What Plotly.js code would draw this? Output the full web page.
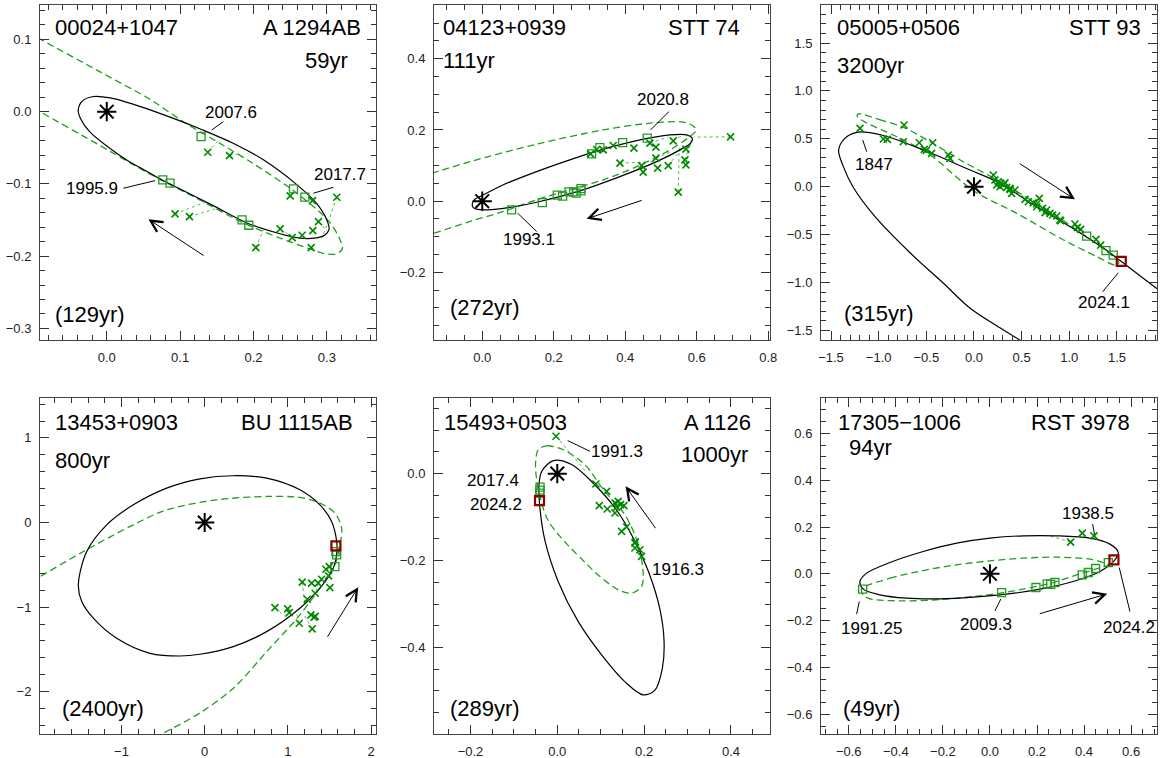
<!DOCTYPE html>
<html><head><meta charset="utf-8">
<script src="https://cdn.plot.ly/plotly-3.0.1.min.js"></script>
<style>html,body{margin:0;padding:0;background:#fff}#chart{width:1161px;height:758px}</style>
</head><body><div id="chart"></div>
<script>
// ---------------- DATA ----------------
// Panel 1: 00024+1047 A 1294AB
const p1Orbit = [[-0.039,0.002],[-0.033,0.015],[-0.018,0.021],[0.005,0.019],[0.046,0.007],[0.09,-0.009],[0.13,-0.025],[0.175,-0.045],[0.214,-0.067],[0.259,-0.101],[0.286,-0.127],[0.300,-0.150],[0.303,-0.163],[0.297,-0.171],[0.283,-0.175],[0.263,-0.175],[0.236,-0.169],[0.191,-0.154],[0.145,-0.130],[0.100,-0.107],[0.076,-0.095],[0.050,-0.080],[0.032,-0.070],[0.014,-0.058],[-0.023,-0.028],[-0.036,-0.009],[-0.039,0.002]];
const p1Old = [[-0.12,0.117],[-0.091,0.1005],[-0.009,0.055],[0.059,0.017],[0.1045,-0.014],[0.1545,-0.044],[0.2,-0.072],[0.25,-0.106],[0.286,-0.135],[0.3045,-0.154],[0.317,-0.175],[0.321,-0.19],[0.312,-0.197],[0.295,-0.196],[0.277,-0.19],[0.236,-0.175],[0.182,-0.152],[0.123,-0.12],[0.073,-0.094],[0.032,-0.071],[-0.009,-0.047],[-0.091,0.0],[-0.12,0.017]];
const p1Cross = [[0.1377,-0.0562],[0.1673,-0.0608],[0.0931,-0.1415],[0.1127,-0.1452],[0.25,-0.1166],[0.2804,-0.1231],[0.3136,-0.1184],[0.2886,-0.1521],[0.2809,-0.1646],[0.2363,-0.1622],[0.2527,-0.1743],[0.2663,-0.171],[0.2786,-0.1881],[0.2032,-0.1881]];
const p1Sq = [[0.1286,-0.0346],[0.0764,-0.0945],[0.0863,-0.099],[0.1845,-0.1498],[0.1936,-0.1572],[0.2545,-0.1069],[0.27,-0.1184]];
const p1Red = [];
const p1Resid = [[[0.1377,-0.0562],[0.152,-0.040]],[[0.1673,-0.0608],[0.182,-0.058]],[[0.0931,-0.1415],[0.136,-0.1245]],[[0.1127,-0.1452],[0.15,-0.134]],[[0.3136,-0.1184],[0.30,-0.158],[0.293,-0.175]],[[0.2032,-0.1881],[0.2136,-0.1636]],[[0.2886,-0.1521],[0.30,-0.165]],[[0.2363,-0.1622],[0.258,-0.176]]];
const p1Labels = [['2007.6',0.1695,-0.0014],['2017.7',0.318,-0.0876],['1995.9',-0.0205,-0.106]];
const p1Pointers = [[[0.1432,-0.0253],[0.159,-0.0138]],[[0.2817,-0.1129],[0.309,-0.1046]],[[0.0226,-0.106],[0.0659,-0.0954]]];
const p1Arrow = [[0.1341,-0.2005],[0.0568,-0.1489]];

// Panel 2: 04123+0939 STT 74
const p2Orbit = [[-0.028,-0.008],[-0.02,0.006],[-0.006,0.013],[0.059,0.046],[0.152,0.083],[0.245,0.116],[0.3385,0.146],[0.432,0.17],[0.525,0.186],[0.572,0.186],[0.588,0.175],[0.582,0.162],[0.562,0.149],[0.488,0.111],[0.385,0.069],[0.273,0.029],[0.152,-0.003],[0.059,-0.02],[-0.006,-0.024],[-0.025,-0.018],[-0.028,-0.008]];
const p2Old = [[-0.2,0.061],[-0.135,0.0803],[-0.034,0.111],[0.152,0.16],[0.3385,0.2003],[0.469,0.219],[0.562,0.222],[0.592,0.21],[0.598,0.198],[0.581,0.1815],[0.525,0.144],[0.432,0.097],[0.3385,0.06],[0.245,0.032],[0.152,0.004],[0.059,-0.029],[-0.034,-0.057],[-0.135,-0.09],[-0.2,-0.111]];
const p2Cross = [[0.3032,0.1329],[0.32,0.145],[0.3385,0.1441],[0.3664,0.1562],[0.4243,0.1489],[0.3852,0.1067],[0.4691,0.1629],[0.4858,0.1517],[0.5343,0.1694],[0.5698,0.1461],[0.4858,0.1208],[0.4459,0.1],[0.4503,0.0815],[0.4906,0.0927],[0.5203,0.1],[0.567,0.116],[0.5698,0.102],[0.5483,0.0253],[0.6948,0.1806]];
const p2Sq = [[0.0822,-0.0244],[0.168,-0.004],[0.2098,0.0169],[0.2249,0.014],[0.2425,0.0261],[0.2556,0.0261],[0.263,0.0225],[0.2761,0.0354],[0.2761,0.029],[0.306,0.133],[0.329,0.1506],[0.3927,0.1646],[0.4615,0.177]];
const p2Red = [];
const p2Resid = [[[0.6948,0.1806],[0.592,0.18]],[[0.5483,0.0253],[0.551,0.15]],[[0.3852,0.1067],[0.488,0.111]],[[0.567,0.116],[0.585,0.172]],[[0.5698,0.102],[0.585,0.172]],[[0.4858,0.1208],[0.53,0.14]],[[0.5203,0.1],[0.56,0.15]],[[0.4691,0.1629],[0.52,0.18]],[[0.5343,0.1694],[0.56,0.185]]];
const p2Labels = [['2020.8',0.5063,0.2865],['1993.1',0.1306,-0.1067]];
const p2Pointers = [[[0.5222,0.2517],[0.471,0.2003]],[[0.099,-0.0337],[0.1522,-0.0854]]];
const p2Arrow = [[0.4503,0.0037],[0.292,-0.0497]];

// Panel 3: 05005+0506 STT 93
const p3Orbit = [[0.62,-1.7],[0.48,-1.6],[0.31,-1.496],[-0.04,-1.269],[-0.32,-1.008],[-0.66,-0.70],[-1.04,-0.31],[-1.27,0.0],[-1.37,0.21],[-1.42,0.38],[-1.36,0.5],[-1.23,0.568],[-0.97,0.54],[-0.53,0.383],[-0.04,0.174],[0.24,0.052],[0.66,-0.209],[1.01,-0.418],[1.36,-0.643],[1.54,-0.776],[1.9,-1.05],[2.05,-1.16]];
const p3Old = [[-1.214,0.76],[-0.99,0.70],[-0.74,0.62],[-0.46,0.47],[-0.11,0.26],[0.17,0.11],[0.5,-0.08],[0.9,-0.33],[1.25,-0.57],[1.45,-0.72],[1.52,-0.79],[1.49,-0.82],[1.29,-0.73],[0.94,-0.556],[0.45,-0.278],[0.0,-0.045],[-0.46,0.331],[-0.81,0.522],[-1.13,0.668],[-1.225,0.735],[-1.214,0.76]];
const p3Cross = [[-1.196,0.609],[-0.951,0.498],[-0.909,0.495],[-0.734,0.644],[-0.742,0.47],[-0.574,0.459],[-0.521,0.39],[-0.5,0.38],[-0.433,0.459],[-0.444,0.348],[-0.269,0.331],[-0.252,0.296],[0.203,0.122],[0.22,0.07],[0.255,0.052],[0.28,0.035],[0.308,0.018],[0.343,-0.007],[0.378,-0.027],[0.395,-0.069],[0.273,0.0],[0.325,0.04],[0.238,0.018],[0.43,-0.034],[0.378,-0.017],[0.535,-0.132],[0.57,-0.157],[0.622,-0.167],[0.685,-0.121],[0.658,-0.209],[0.658,-0.18],[0.72,-0.225],[0.762,-0.243],[0.797,-0.278],[0.825,-0.295],[0.868,-0.306],[0.909,-0.355],[0.902,-0.348],[0.745,-0.271],[1.059,-0.389],[1.084,-0.424],[1.119,-0.445],[1.28,-0.549],[1.329,-0.609]];
const p3Sq = [[1.182,-0.515],[1.385,-0.666],[1.461,-0.715]];
const p3Red = [[1.545,-0.78]];
const p3Resid = [];
const p3Labels = [['1847',-1.046,0.234],['2024.1',1.367,-1.211]];
const p3Pointers = [[[-1.1675,0.4875],[-1.1255,0.3653]],[[1.514,-0.8977],[1.35,-1.096]]];
const p3Arrow = [[0.465,0.251],[1.059,-0.132]];

// Panel 4: 13453+0903 BU 1115AB
const p4Orbit = [[-1.519,-0.737],[-1.418,-0.343],[-1.178,-0.027],[-0.858,0.209],[-0.457,0.407],[-0.056,0.517],[0.344,0.553],[0.745,0.525],[1.145,0.387],[1.386,0.209],[1.526,0.012],[1.587,-0.225],[1.587,-0.38],[1.546,-0.54],[1.386,-0.776],[1.145,-1.013],[0.745,-1.29],[0.344,-1.467],[-0.056,-1.557],[-0.297,-1.578],[-0.657,-1.546],[-1.058,-1.368],[-1.339,-1.131],[-1.478,-0.935],[-1.519,-0.737]];
const p4Old = [[-2.2,-0.76],[-1.98,-0.639],[-1.459,-0.343],[-0.858,-0.027],[-0.457,0.15],[0.144,0.268],[0.745,0.308],[1.145,0.296],[1.386,0.23],[1.566,0.111],[1.647,-0.066],[1.626,-0.264],[1.566,-0.5],[1.466,-0.658],[1.145,-1.092],[0.745,-1.527],[0.344,-1.96],[-0.056,-2.25],[-0.517,-2.5],[-0.8,-2.64]];
const p4Cross = [[0.845,-1.006],[0.998,-1.021],[1.017,-1.065],[1.137,-1.191],[1.173,-0.705],[1.286,-0.717],[1.233,-0.907],[1.365,-0.717],[1.406,-0.67],[1.329,-0.836],[1.278,-1.092],[1.314,-1.12],[1.33,-1.11],[1.293,-1.258],[1.506,-0.769],[1.458,-0.552],[1.498,-0.521],[1.49,-0.63]];
const p4Sq = [[1.578,-0.343],[1.587,-0.382],[1.566,-0.521]];
const p4Red = [[1.578,-0.276]];
const p4Resid = [[[0.845,-1.006],[1.0,-1.14]],[[1.173,-0.705],[1.2,-0.93]],[[1.365,-0.717],[1.33,-0.86]],[[1.293,-1.258],[1.2,-1.1]],[[1.137,-1.191],[1.1,-1.06]]];
const p4Labels = [];
const p4Pointers = [];
const p4Arrow = [[1.466,-1.368],[1.846,-0.764]];

// Panel 5: 15493+0503 A 1126
const p5Orbit = [[-0.009,0.03],[-0.036,0.005],[-0.042,-0.025],[-0.04,-0.079],[-0.028,-0.156],[0.002,-0.248],[0.048,-0.34],[0.102,-0.417],[0.156,-0.479],[0.198,-0.509],[0.225,-0.498],[0.242,-0.448],[0.246,-0.386],[0.236,-0.31],[0.21,-0.225],[0.175,-0.148],[0.133,-0.079],[0.079,-0.018],[0.033,0.021],[-0.009,0.03]];
const p5Old = [[-0.044,0.055],[-0.024,0.064],[0.014,0.055],[0.064,0.02],[0.107,-0.038],[0.156,-0.095],[0.187,-0.164],[0.198,-0.233],[0.194,-0.26],[0.171,-0.275],[0.14,-0.267],[0.094,-0.233],[0.065,-0.205],[0.025,-0.165],[-0.02,-0.11],[-0.038,-0.06],[-0.048,-0.01],[-0.05,0.025],[-0.044,0.055]];
const p5Cross = [[-0.003,0.086],[0.089,-0.0238],[0.1137,-0.0407],[0.0967,-0.0737],[0.1151,-0.0814],[0.1328,-0.0676],[0.1404,-0.0637],[0.1459,-0.0714],[0.1535,-0.0737],[0.1367,-0.0768],[0.1328,-0.0906],[0.1597,-0.1229],[0.1482,-0.133],[0.1788,-0.1597],[0.18,-0.157],[0.1788,-0.1712],[0.1903,-0.175],[0.1942,-0.1905]];
const p5Sq = [[-0.0398,-0.031],[-0.0398,-0.038],[-0.0405,-0.045]];
const p5Red = [[-0.041,-0.062]];
const p5Resid = [[[-0.003,0.086],[0.068,0.002]]];
const p5Labels = [['1991.3',0.138,0.05],['2017.4',-0.1473,-0.0161],['2024.2',-0.1411,-0.0714],['1916.3',0.2785,-0.2212]];
const p5Pointers = [[[0.0239,0.076],[0.0753,0.0514]]];
const p5Arrow = [[0.2288,-0.129],[0.1574,-0.0293]];

// Panel 6: 17305-1006 RST 3978
const p6Orbit = [[-0.5525,-0.0329],[-0.524,0.003],[-0.425,0.0483],[-0.2835,0.0953],[-0.1417,0.131],[0,0.1526],[0.1417,0.1624],[0.2835,0.1624],[0.425,0.1526],[0.51,0.1269],[0.5454,0.0912],[0.5312,0.0598],[0.4675,0.01],[0.354,-0.0329],[0.2125,-0.0655],[0.071,-0.0869],[-0.071,-0.0997],[-0.2125,-0.1068],[-0.354,-0.104],[-0.4675,-0.0897],[-0.5384,-0.0655],[-0.5525,-0.0329]];
const p6Old = [[-0.5454,-0.0655],[-0.425,-0.0185],[-0.2835,0.0142],[-0.1417,0.0385],[0,0.0556],[0.1417,0.067],[0.2835,0.0712],[0.425,0.0627],[0.482,0.048],[0.505,0.04],[0.449,0.02],[0.3825,0.0],[0.269,-0.037],[0.071,-0.078],[-0.071,-0.097],[-0.2265,-0.111],[-0.3685,-0.1154],[-0.51,-0.1068],[-0.5384,-0.0897],[-0.5454,-0.0655]];
const p6Cross = [[0.343,0.1355],[0.3924,0.1739],[0.442,0.1624]];
const p6Sq = [[-0.541,-0.0655],[0.0497,-0.0798],[0.1955,-0.0584],[0.2437,-0.0427],[0.258,-0.045],[0.2762,-0.037],[0.3924,-0.0043],[0.4178,0.0057],[0.449,0.0228],[0.503,0.0483]];
const p6Red = [[0.527,0.0598]];
const p6Resid = [[[0.343,0.1355],[0.255,0.162]]];
const p6Labels = [['1938.5',0.4178,0.2594],['1991.25',-0.5028,-0.235],['2009.3',-0.017,-0.215],['2024.2',0.592,-0.2278]];
const p6Pointers = [[[0.4365,0.2124],[0.4462,0.1594]],[[-0.5555,-0.1184],[-0.5665,-0.1722]],[[0.0467,-0.1068],[0.0212,-0.1581]],[[0.5495,0.0269],[0.595,-0.1611]]];
const p6Arrow = [[0.2055,-0.1722],[0.4986,-0.0855]];

// Panel texts
const panelNames = ['00024+1047','04123+0939','05005+0506','13453+0903','15493+0503','17305\u22121006'];
const panelPairs = ['A 1294AB','STT 74','STT 93','BU 1115AB','A 1126','RST 3978'];
const panelPeriods = ['59yr','111yr','3200yr','800yr','1000yr','94yr'];
const panelOldPeriods = ['(129yr)','(272yr)','(315yr)','(2400yr)','(289yr)','(49yr)'];

// ---------------- LAYOUT / DRAWING ----------------
const W = 1161, H = 758;
const FONT = 'Liberation Sans, Arial, Helvetica, sans-serif';
const GREEN_LINE = '#1e9e1e', GREEN_X = '#008800', GREEN_SQ = '#249a24', DOT = '#4fbf4f', RED = '#8b0000';

const panels = [
  {orbit:p1Orbit, old:p1Old, cross:p1Cross, sq:p1Sq, red:p1Red, resid:p1Resid, labels:p1Labels, ptr:p1Pointers, arrow:p1Arrow},
  {orbit:p2Orbit, old:p2Old, cross:p2Cross, sq:p2Sq, red:p2Red, resid:p2Resid, labels:p2Labels, ptr:p2Pointers, arrow:p2Arrow},
  {orbit:p3Orbit, old:p3Old, cross:p3Cross, sq:p3Sq, red:p3Red, resid:p3Resid, labels:p3Labels, ptr:p3Pointers, arrow:p3Arrow},
  {orbit:p4Orbit, old:p4Old, cross:p4Cross, sq:p4Sq, red:p4Red, resid:p4Resid, labels:p4Labels, ptr:p4Pointers, arrow:p4Arrow},
  {orbit:p5Orbit, old:p5Old, cross:p5Cross, sq:p5Sq, red:p5Red, resid:p5Resid, labels:p5Labels, ptr:p5Pointers, arrow:p5Arrow},
  {orbit:p6Orbit, old:p6Old, cross:p6Cross, sq:p6Sq, red:p6Red, resid:p6Resid, labels:p6Labels, ptr:p6Pointers, arrow:p6Arrow}
];

// pixel boxes of the six frames and axis settings
const colPx = [[40,376],[434,770],[821,1157]];
const rowPx = [[5,340],[398,734]];
const axCfg = [
  {xr:[-0.091,0.367], yr:[-0.316,0.1476], xd:0.1, xm:0.02, yd:0.1, ym:0.02, xf:'.1f', yf:'.1f'},
  {xr:[-0.135,0.805], yr:[-0.39,0.551],   xd:0.2, xm:0.05, yd:0.2, ym:0.05, xf:'.1f', yf:'.1f'},
  {xr:[-1.605,1.92],  yr:[-1.6,1.897],    xd:0.5, xm:0.1,  yd:0.5, ym:0.1,  xf:'.1f', yf:'.1f'},
  {xr:[-1.98,2.06],   yr:[-2.5,1.472],    xd:1,   xm:0.2,  yd:1,   ym:0.2,  xf:'d',   yf:'d'},
  {xr:[-0.284,0.49],  yr:[-0.599,0.174],  xd:0.2, xm:0.05, yd:0.2, ym:0.05, xf:'.1f', yf:'.1f'},
  {xr:[-0.718,0.71],  yr:[-0.684,0.751],  xd:0.2, xm:0.05, yd:0.2, ym:0.05, xf:'.1f', yf:'.1f'}
];
// title positions in pixels: [name(left), pair(right), period, oldPeriod]
const titlePx = [
  {n:[53,28], p:[363,28], per:[350,61,'right'], old:[53,315]},
  {n:[441,27], p:[742,27], per:[441,60,'left'], old:[448,307]},
  {n:[835,27], p:[1143,27], per:[835,65,'left'], old:[842,314]},
  {n:[53,422], p:[355,422], per:[53,460,'left'], old:[60,708]},
  {n:[442,422], p:[753,422], per:[750,454,'right'], old:[448,708]},
  {n:[836,422], p:[1132,422], per:[847,447,'left'], old:[841,708]}
];

const xs = pts => pts.map(p => p === null ? null : p[0]);
const ys = pts => pts.map(p => p === null ? null : p[1]);
const joinSegs = list => { const o = []; list.forEach(s => { s.forEach(p => o.push(p)); o.push(null); }); return o; };

const traces = [];
const annotations = [];
const layout = {
  width: W, height: H, margin: {l:0, r:0, t:0, b:0},
  paper_bgcolor: '#fff', plot_bgcolor: '#fff', showlegend: false,
  font: {family: FONT, color: '#000'}
};

function axisObj(dom, range, dtick, minor, fmt, anchor) {
  return {
    domain: dom, range: range, anchor: anchor, autorange: false,
    tickmode: 'linear', tick0: 0, dtick: dtick, tickformat: fmt,
    ticks: 'inside', ticklen: 9, tickwidth: 1, tickcolor: '#333',
    showline: true, linecolor: '#444', linewidth: 1, mirror: 'allticks',
    showgrid: false, zeroline: false, fixedrange: true,
    minor: {dtick: minor, tick0: 0, ticks: 'inside', ticklen: 5, tickwidth: 1, tickcolor: '#333', showgrid: false},
    tickfont: {family: FONT, size: 13, color: '#222'}, ticklabelstandoff: 5
  };
}

panels.forEach((d, i) => {
  const k = i + 1;
  const xa = k === 1 ? 'x' : 'x' + k, ya = k === 1 ? 'y' : 'y' + k;
  const col = colPx[i % 3], row = rowPx[Math.floor(i / 3)];
  const c = axCfg[i];
  layout['xaxis' + (k === 1 ? '' : k)] = axisObj([col[0]/W, col[1]/W], c.xr, c.xd, c.xm, c.xf, ya);
  layout['yaxis' + (k === 1 ? '' : k)] = axisObj([1 - row[1]/H, 1 - row[0]/H], c.yr, c.yd, c.ym, c.yf, xa);

  const add = o => traces.push(Object.assign({type:'scatter', xaxis: xa, yaxis: ya, hoverinfo: 'skip', showlegend: false, cliponaxis: true}, o));
  // old orbit (green dashed)
  add({mode:'lines', x: xs(d.old), y: ys(d.old), line:{color: GREEN_LINE, width: 1.3, dash: '7px,4px', shape: 'spline', smoothing: 0.9}});
  // residual dotted lines
  if (d.resid.length) {
    const r = joinSegs(d.resid);
    add({mode:'lines', x: xs(r), y: ys(r), connectgaps:false, line:{color: DOT, width: 1, dash: 'dot'}});
  }
  // new orbit (black)
  add({mode:'lines', x: xs(d.orbit), y: ys(d.orbit), line:{color:'#000', width: 1.2, shape:'spline', smoothing: 0.9}});
  // label pointers
  if (d.ptr.length) {
    const p = joinSegs(d.ptr);
    add({mode:'lines', x: xs(p), y: ys(p), connectgaps:false, line:{color:'#000', width: 1}, cliponaxis:false});
  }
  // squares
  add({mode:'markers', x: xs(d.sq), y: ys(d.sq), marker:{symbol:'square-open', size: 8, color: GREEN_SQ, line:{width:1.3, color: GREEN_SQ}}});
  // crosses
  add({mode:'markers', x: xs(d.cross), y: ys(d.cross), marker:{symbol:'x-thin-open', size: 7, color: GREEN_X, line:{width:1.6, color: GREEN_X}}});
  // latest position
  if (d.red.length) add({mode:'markers', x: xs(d.red), y: ys(d.red), marker:{symbol:'square-open', size: 9, color: RED, line:{width:2.2, color: RED}}});
  // primary star
  add({mode:'markers', x:[0], y:[0], marker:{symbol:'asterisk-open', size: 16, color:'#000', line:{width:2, color:'#000'}}});

  // year labels
  d.labels.forEach(l => annotations.push({xref: xa, yref: ya, x: l[1], y: l[2], text: l[0], showarrow: false,
    font:{family: FONT, size: 17, color:'#000'}, xanchor:'center', yanchor:'middle'}));
  // motion arrow
  annotations.push({xref: xa, yref: ya, axref: xa, ayref: ya, x: d.arrow[1][0], y: d.arrow[1][1], ax: d.arrow[0][0], ay: d.arrow[0][1],
    text: '', showarrow: true, arrowhead: 5, arrowsize: 2.3, arrowwidth: 1, arrowcolor: '#000', standoff: 0});

  // panel texts
  const t = titlePx[i];
  const pa = (txt, px, py, anchor) => annotations.push({xref:'paper', yref:'paper', x: px/W, y: 1 - py/H, text: txt, showarrow:false,
    xanchor: anchor, yanchor:'middle', font:{family: FONT, size: 22, color:'#000'}});
  pa(panelNames[i], t.n[0], t.n[1], 'left');
  pa(panelPairs[i], t.p[0], t.p[1], 'right');
  pa(panelPeriods[i], t.per[0], t.per[1], t.per[2]);
  pa(panelOldPeriods[i], t.old[0], t.old[1], 'left');
});
layout.annotations = annotations;

Plotly.newPlot('chart', traces, layout, {displayModeBar: false, staticPlot: true});
</script></body></html>
